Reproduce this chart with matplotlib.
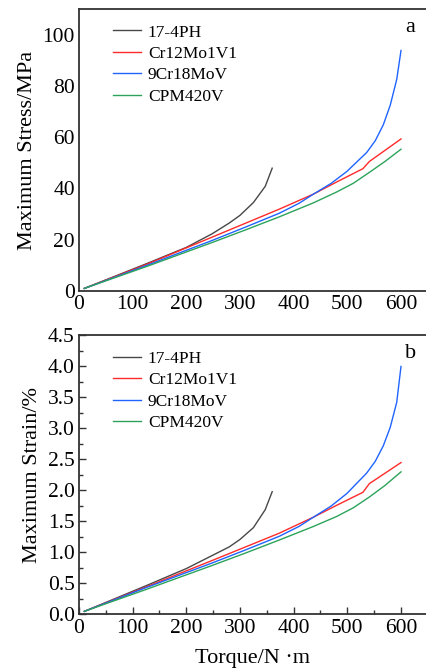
import matplotlib
matplotlib.use("Agg")
import matplotlib.pyplot as plt
from matplotlib.ticker import MultipleLocator

plt.rcParams['font.family'] = ['Liberation Serif', 'DejaVu Serif']

names = ["17-4PH", "Cr12Mo1V1", "9Cr18MoV", "CPM420V"]
colors = ["#484848", "#ff2a2a", "#1f64ff", "#2ca35a"]

# Torque values (N·m)
x_ph = [10, 124, 200, 248, 280, 300, 325, 347, 360]
x_cr = [10, 124, 248, 373, 437, 480, 529, 541, 600]
x_9c = [10, 124, 248, 310, 373, 410, 437, 470, 499, 536, 552, 567, 580, 592, 600]
x_cpm = [10, 124, 248, 310, 373, 437, 480, 511, 542, 570, 600]

# Maximum stress (MPa)
s_ph = [1.0, 10.5, 17.0, 22.3, 26.5, 29.5, 34.5, 40.8, 47.9]
s_cr = [1.0, 10.2, 21.0, 31.9, 37.8, 42.5, 47.7, 50.5, 59.3]
s_9c = [1.0, 9.8, 19.7, 24.9, 30.3, 34.2, 37.8, 42.0, 46.6, 54.0, 58.6, 64.8, 72.5, 82.5, 93.8]
s_cpm = [1.0, 9.4, 18.9, 23.8, 28.9, 34.4, 38.6, 42.0, 46.4, 50.5, 55.3]

# Maximum strain (%)
e_ph = [0.05, 0.46, 0.74, 0.95, 1.09, 1.21, 1.40, 1.69, 1.98]
e_cr = [0.05, 0.44, 0.87, 1.31, 1.57, 1.76, 1.97, 2.11, 2.45]
e_9c = [0.05, 0.43, 0.83, 1.04, 1.26, 1.42, 1.57, 1.75, 1.95, 2.28, 2.47, 2.72, 3.02, 3.42, 4.00]
e_cpm = [0.05, 0.40, 0.79, 0.99, 1.20, 1.42, 1.58, 1.72, 1.90, 2.08, 2.30]

xs = [x_ph, x_cr, x_9c, x_cpm]
stress = [s_ph, s_cr, s_9c, s_cpm]
strain = [e_ph, e_cr, e_9c, e_cpm]

fig = plt.figure(figsize=(4.26, 6.70), dpi=100)
ax1 = fig.add_axes([0.1854, 0.5657, 0.8169, 0.4209])
ax2 = fig.add_axes([0.1854, 0.0829, 0.8169, 0.4164])

for ax, ys, ylab, ylim, major, minor, tag, ty, ticklen in [
        (ax1, stress, "Maximum Stress/MPa", (0, 110), 20, 10, "a", 0.933, 0),
        (ax2, strain, "Maximum Strain/%", (0, 4.5), 0.5, 0.25, "b", 0.937, 5)]:
    for x, y, n, c in zip(xs, ys, names, colors):
        ax.plot(x, y, color=c, lw=1.0, label=n)
    ax.set_xlim(0, 648.4)
    ax.set_ylim(*ylim)
    ax.xaxis.set_major_locator(MultipleLocator(100))
    ax.xaxis.set_minor_locator(MultipleLocator(50))
    ax.yaxis.set_major_locator(MultipleLocator(major))
    ax.yaxis.set_minor_locator(MultipleLocator(minor))
    ax.tick_params(which='both', direction='in', labelsize=15.5, width=1.0,
                   color='#333333', pad=3)
    ax.tick_params(which='major', length=ticklen)
    ax.tick_params(which='minor', length=ticklen * 0.6)
    ax.set_ylabel(ylab, fontsize=16, labelpad=4)
    for sp in ax.spines.values():
        sp.set_linewidth(1.3)
        sp.set_color('#333333')
    ax.text(0.953, ty, tag, transform=ax.transAxes, fontsize=16,
            ha='center', va='center')
    ax.legend(loc='upper left', bbox_to_anchor=(0.078, 0.97), frameon=False,
              fontsize=12.5, handlelength=1.6, handletextpad=0.4,
              labelspacing=0.3, borderaxespad=0)

ax1.set_yticks([0, 20, 40, 60, 80, 100])
ax2.set_xlabel("Torque/N \u00b7m", fontsize=16, labelpad=8)

fig.savefig("out.png", dpi=100)
